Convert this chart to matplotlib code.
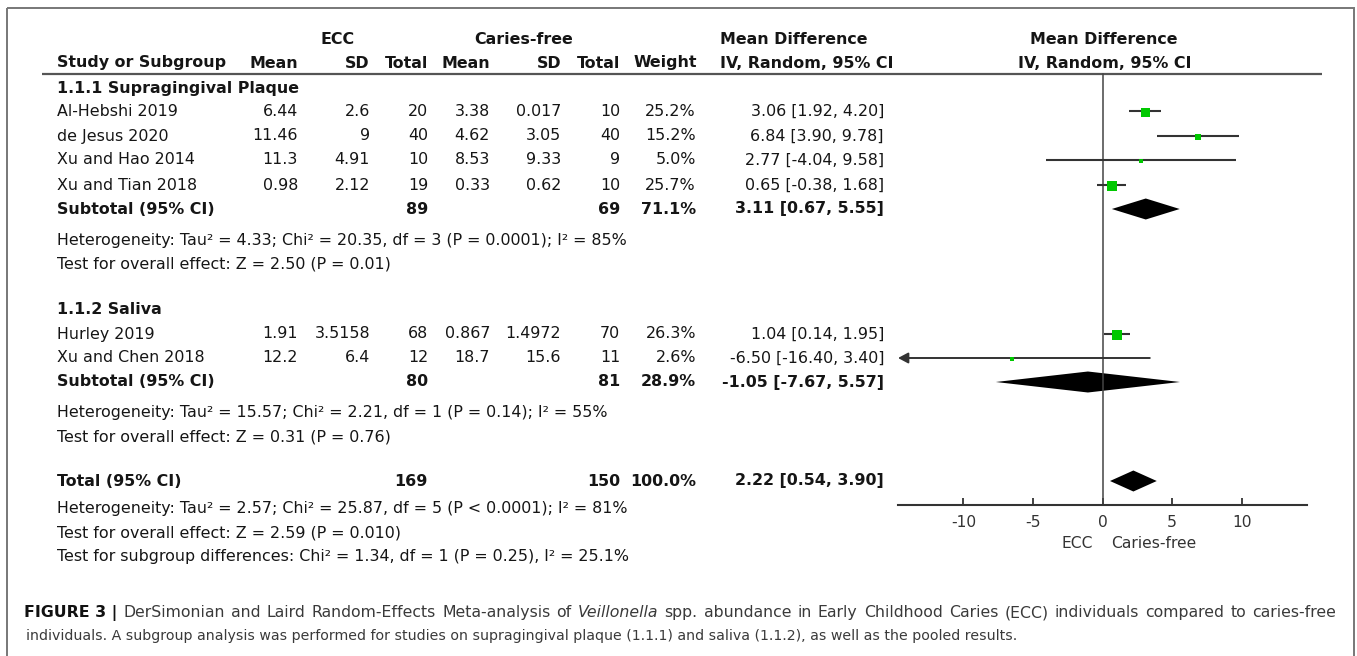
import numpy as np
import matplotlib.pyplot as plt
from matplotlib.patches import Rectangle

plt.rcParams['font.family'] = 'DejaVu Sans'

# ---- data ----
studies = ["Al-Hebshi 2019", "de Jesus 2020", "Xu and Hao 2014", "Xu and Tian 2018",
           "Hurley 2019", "Xu and Chen 2018"]
ecc_mean = ["6.44", "11.46", "11.3", "0.98", "1.91", "12.2"]
ecc_sd = ["2.6", "9", "4.91", "2.12", "3.5158", "6.4"]
ecc_n = [20, 40, 10, 19, 68, 12]
cf_mean = ["3.38", "4.62", "8.53", "0.33", "0.867", "18.7"]
cf_sd = ["0.017", "3.05", "9.33", "0.62", "1.4972", "15.6"]
cf_n = [10, 40, 9, 10, 70, 11]
weight = [25.2, 15.2, 5.0, 25.7, 26.3, 2.6]
md = [3.06, 6.84, 2.77, 0.65, 1.04, -6.50]
md_lo = [1.92, 3.90, -4.04, -0.38, 0.14, -16.40]
md_hi = [4.20, 9.78, 9.58, 1.68, 1.95, 3.40]

groups = ["1.1.1 Supragingival Plaque", "1.1.2 Saliva"]
sub_ecc_n = [89, 80]
sub_cf_n = [69, 81]
sub_weight = [71.1, 28.9]
sub_md = [3.11, -1.05]
sub_lo = [0.67, -7.67]
sub_hi = [5.55, 5.57]
sub_het = ["Heterogeneity: Tau\u00b2 = 4.33; Chi\u00b2 = 20.35, df = 3 (P = 0.0001); I\u00b2 = 85%",
           "Heterogeneity: Tau\u00b2 = 15.57; Chi\u00b2 = 2.21, df = 1 (P = 0.14); I\u00b2 = 55%"]
sub_test = ["Test for overall effect: Z = 2.50 (P = 0.01)",
            "Test for overall effect: Z = 0.31 (P = 0.76)"]

tot_ecc_n, tot_cf_n, tot_weight = 169, 150, 100.0
tot_md, tot_lo, tot_hi = 2.22, 0.54, 3.90
tot_notes = ["Heterogeneity: Tau\u00b2 = 2.57; Chi\u00b2 = 25.87, df = 5 (P < 0.0001); I\u00b2 = 81%",
             "Test for overall effect: Z = 2.59 (P = 0.010)",
             "Test for subgroup differences: Chi\u00b2 = 1.34, df = 1 (P = 0.25), I\u00b2 = 25.1%"]

ticks = [-10, -5, 0, 5, 10]
tick_labels = ["-10", "-5", "0", "5", "10"]
xmin, xmax = -14.7, 14.7

caption_label = "FIGURE 3 |"
caption1 = [("DerSimonian", ''), ("and", ''), ("Laird", ''), ("Random-Effects", ''),
            ("Meta-analysis", ''), ("of", ''), ("Veillonella", 'italic'), ("spp.", ''),
            ("abundance", ''), ("in", ''), ("Early", ''), ("Childhood", ''), ("Caries", ''),
            ("(ECC)", ''), ("individuals", ''), ("compared", ''), ("to", ''),
            ("caries-free", '')]
caption2 = ("individuals. A subgroup analysis was performed for studies on supragingival "
            "plaque (1.1.1) and saliva (1.1.2), as well as the pooled results.")

# ---- layout (pixels) ----
W, H = 1357, 656
study_y = [111, 136, 160, 185, 334, 358]
group_y = [89, 310]
sub_y = [209, 382]
het_y = [240, 412]
test_y = [264, 437]
tot_y = 481
tot_note_y = [509, 533, 557]
col_x = [298, 370, 428, 490, 561, 620, 696, 884]
fs = 11.4
tc = '#151515'

fig = plt.figure(figsize=(W / 100, H / 100), dpi=100)
ax = fig.add_axes([0, 0, 1, 1])
ax.set_xlim(0, W)
ax.set_ylim(H, 0)
ax.axis('off')

ax.add_patch(Rectangle((7, 8), 1347, 700, fill=False, ec='#777777', lw=1.4))


def txt(x, y, s, ha='right', bold=False, size=fs, color=tc):
    return ax.text(x, y, s, ha=ha, va='center', fontsize=size, color=color,
                   fontweight='bold' if bold else 'normal')


# headers
txt(338, 39, "ECC", ha='center', bold=True)
txt(524, 39, "Caries-free", ha='center', bold=True)
txt(720, 39, "Mean Difference", ha='left', bold=True)
txt(1104, 39, "Mean Difference", ha='center', bold=True)
txt(57, 63, "Study or Subgroup", ha='left', bold=True)
for x, s in zip(col_x[:7], ["Mean", "SD", "Total", "Mean", "SD", "Total", "Weight"]):
    txt(x + (1 if s == "Weight" else 0), 63, s, bold=True)
txt(720, 63, "IV, Random, 95% CI", ha='left', bold=True)
txt(1105, 63, "IV, Random, 95% CI", ha='center', bold=True)
ax.plot([42, 1322], [74, 74], color='#555555', lw=1.6, solid_capstyle='butt')

# table body
for g in range(2):
    txt(57, group_y[g], groups[g], ha='left', bold=True)
    txt(57, sub_y[g], "Subtotal (95% CI)", ha='left', bold=True)
    txt(col_x[2], sub_y[g], str(sub_ecc_n[g]), bold=True)
    txt(col_x[5], sub_y[g], str(sub_cf_n[g]), bold=True)
    txt(col_x[6], sub_y[g], f"{sub_weight[g]:.1f}%", bold=True)
    txt(col_x[7], sub_y[g], f"{sub_md[g]:.2f} [{sub_lo[g]:.2f}, {sub_hi[g]:.2f}]", bold=True)
    txt(57, het_y[g], sub_het[g], ha='left')
    txt(57, test_y[g], sub_test[g], ha='left')

for i, name in enumerate(studies):
    y = study_y[i]
    txt(57, y, name, ha='left')
    vals = [ecc_mean[i], ecc_sd[i], str(ecc_n[i]), cf_mean[i], cf_sd[i], str(cf_n[i]),
            f"{weight[i]:.1f}%", f"{md[i]:.2f} [{md_lo[i]:.2f}, {md_hi[i]:.2f}]"]
    for x, s in zip(col_x, vals):
        txt(x, y, s)

txt(57, tot_y, "Total (95% CI)", ha='left', bold=True)
txt(col_x[2], tot_y, str(tot_ecc_n), bold=True)
txt(col_x[5], tot_y, str(tot_cf_n), bold=True)
txt(col_x[6], tot_y, f"{tot_weight:.1f}%", bold=True)
txt(col_x[7], tot_y, f"{tot_md:.2f} [{tot_lo:.2f}, {tot_hi:.2f}]", bold=True)
for y, s in zip(tot_note_y, tot_notes):
    txt(57, y, s, ha='left')

# ---- forest plot ----
x0, x1 = 898, 1307
fx = fig.add_axes([x0 / W, 0, (x1 - x0) / W, 1])
fx.set_xlim(xmin, xmax)
fx.set_ylim(H, 0)
fx.patch.set_visible(False)
for side in ['top', 'left', 'right']:
    fx.spines[side].set_visible(False)
fx.spines['bottom'].set_position(('data', 505))
fx.spines['bottom'].set_color('#333333')
fx.spines['bottom'].set_linewidth(1.5)
fx.set_yticks([])
fx.set_xticks(ticks)
fx.set_xticklabels(tick_labels)
fx.tick_params(axis='x', direction='in', length=5, width=1.3, color='#333333',
               labelsize=11.2, labelcolor='#333333', pad=7)

fx.plot([0, 0], [74, 505], color='#444444', lw=1.1)

green = '#00c800'
for i in range(len(studies)):
    y = study_y[i]
    if md_lo[i] < xmin:
        fx.annotate('', xy=(xmin, y), xytext=(md_hi[i], y),
                    arrowprops=dict(arrowstyle='-|>,head_length=0.75,head_width=0.4',
                                    color='#333333', lw=1.4, shrinkA=0, shrinkB=0,
                                    mutation_scale=8))
    else:
        fx.plot([md_lo[i], md_hi[i]], [y, y], color='#333333', lw=1.5,
                solid_capstyle='butt')
    side = max(9 * np.sqrt(weight[i] / 25.2), 3.6)
    fx.plot(md[i], y + 0.5, marker='s', ms=side * 0.72, mfc=green, mec=green,
            mew=0, ls='none', zorder=3)

for est, lo, hi, y in zip(sub_md + [tot_md], sub_lo + [tot_lo], sub_hi + [tot_hi],
                          sub_y + [tot_y]):
    fx.fill([lo, est, hi, est], [y, y - 10.5, y, y + 10.5], color='black', lw=0)

fx.text(-0.7, 544, "ECC", ha='right', va='center', fontsize=11.2, color='#333333')
fx.text(0.65, 544, "Caries-free", ha='left', va='center', fontsize=11.2, color='#333333')

# ---- caption (first line justified) ----
cap1_fs = 11.3
cap2_fs = 10.2
cap_c = '#3a3a3a'
cap_left, cap_right = 24, 1336
renderer = fig.canvas.get_renderer()
lab = ax.text(cap_left, 617, caption_label, ha='left', va='baseline', fontsize=cap1_fs,
              color='#111111', fontweight='bold')
lab_w = lab.get_window_extent(renderer).width
words = []
widths = []
for w, style in caption1:
    t = ax.text(cap_left, 617, w, ha='left', va='baseline', fontsize=cap1_fs, color=cap_c,
                fontstyle='italic' if style == 'italic' else 'normal')
    words.append(t)
    widths.append(t.get_window_extent(renderer).width)
start = cap_left + lab_w + 6
gap = (cap_right - start - sum(widths)) / (len(words) - 1)
x = start
for t, wd in zip(words, widths):
    t.set_x(x)
    x += wd + gap
ax.text(cap_left + 2, 640, caption2, ha='left', va='baseline', fontsize=cap2_fs, color=cap_c)

fig.savefig('out.png', dpi=100)
